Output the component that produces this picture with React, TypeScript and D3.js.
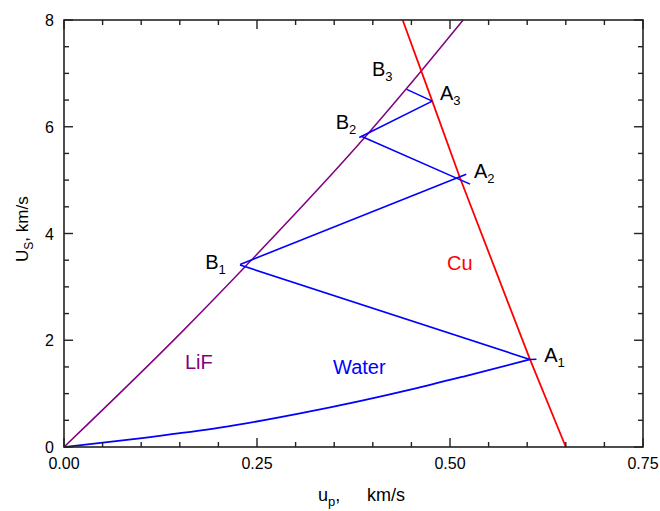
import React from "react";
import * as d3 from "d3";

// ---- data ----
const lifU = [0, 0.155, 0.2367, 0.392, 0.444, 0.517];
const lifUs = [0, 2.19, 3.41, 5.84, 6.72, 8];

const cuU = [0.65, 0.6036, 0.513, 0.477, 0.4387];
const cuUs = [0, 1.64, 5.04, 6.48, 8];

const waterU = [0, 0.0984, 0.202, 0.3057, 0.383, 0.45, 0.52, 0.6036];
const waterUs = [0, 0.163, 0.361, 0.63, 0.86, 1.08, 1.33, 1.64];

// reflection/transmission segments: [u1, Us1, u2, Us2]
const segments = [
  [0.6036, 1.64, 0.612, 1.645],
  [0.6036, 1.64, 0.228, 3.41],
  [0.228, 3.42, 0.521, 5.11],
  [0.385, 5.82, 0.526, 4.925],
  [0.3825, 5.8, 0.477, 6.48],
  [0.477, 6.48, 0.4439, 6.7],
];

const xTicks = [0, 0.25, 0.5, 0.75];
const xTickLabels = ["0.00", "0.25", "0.50", "0.75"];
const yTicks = [0, 2, 4, 6, 8];
const yTickLabels = ["0", "2", "4", "6", "8"];

// point labels: [letter, subscript, u, Us]
const pointLabels: [string, string, number, number][] = [
  ["B", "1", 0.183, 3.33],
  ["B", "2", 0.352, 5.95],
  ["B", "3", 0.399, 6.96],
  ["A", "3", 0.487, 6.5],
  ["A", "2", 0.531, 5.04],
  ["A", "1", 0.622, 1.6],
];

const W = 660;
const H = 511;
const left = 64;
const right = 643;
const top = 20;
const bottom = 447;

export default function App() {
  const x = d3.scaleLinear().domain([0, 0.75]).range([left, right]);
  const y = d3.scaleLinear().domain([0, 8]).range([bottom, top]);

  const line = (us: number[], vs: number[]) =>
    d3
      .line<number>()
      .x((_, i) => x(us[i]))
      .y((_, i) => y(vs[i]))
      .curve(d3.curveMonotoneX)(us) || "";

  const lineCu = d3
    .line<number>()
    .x((_, i) => x(cuU[i]))
    .y((_, i) => y(cuUs[i]))(cuU) || "";

  const xMinor = d3.range(0, 0.7501, 0.05);
  const yMinor = d3.range(0, 8.001, 0.5);
  const axisColor = "#222";
  const font = "'Liberation Sans', Arial, sans-serif";

  return (
    <svg width={W} height={H} style={{ position: "absolute", left: 0, top: 0 }}>
      <rect x={0} y={0} width={W} height={H} fill="#fff" />
      {/* curves */}
      <path d={line(lifU, lifUs)} fill="none" stroke="#800080" strokeWidth={1.5} />
      <path d={line(waterU, waterUs)} fill="none" stroke="#0000ff" strokeWidth={1.8} />
      <path d={lineCu} fill="none" stroke="#ff0000" strokeWidth={1.8} />
      {segments.map((s, i) => (
        <line
          key={i}
          x1={x(s[0])}
          y1={y(s[1])}
          x2={x(s[2])}
          y2={y(s[3])}
          stroke="#0000ff"
          strokeWidth={1.6}
        />
      ))}

      {/* frame */}
      <rect x={left} y={top} width={right - left} height={bottom - top} fill="none" stroke={axisColor} strokeWidth={1.6} />
      {xMinor.map((v, i) => {
        const major = Math.abs(v / 0.25 - Math.round(v / 0.25)) < 1e-6;
        const len = major ? 9 : 5;
        return (
          <g key={"xt" + i}>
            <line x1={x(v)} x2={x(v)} y1={bottom} y2={bottom - len} stroke={axisColor} strokeWidth={1.4} />
            <line x1={x(v)} x2={x(v)} y1={top} y2={top + len} stroke={axisColor} strokeWidth={1.4} />
          </g>
        );
      })}
      {yMinor.map((v, i) => {
        const major = Math.abs(v / 2 - Math.round(v / 2)) < 1e-6;
        const len = major ? 9 : 5;
        return (
          <g key={"yt" + i}>
            <line x1={left} x2={left + len} y1={y(v)} y2={y(v)} stroke={axisColor} strokeWidth={1.4} />
            <line x1={right} x2={right - len} y1={y(v)} y2={y(v)} stroke={axisColor} strokeWidth={1.4} />
          </g>
        );
      })}
      {/* tick labels */}
      {xTicks.map((v, i) => (
        <text key={"xl" + i} x={x(v)} y={469} textAnchor="middle" fontFamily={font} fontSize={16} fill="#000">
          {xTickLabels[i]}
        </text>
      ))}
      {yTicks.map((v, i) => (
        <text key={"yl" + i} x={54} y={y(v) + 6} textAnchor="end" fontFamily={font} fontSize={16} fill="#000">
          {yTickLabels[i]}
        </text>
      ))}
      {/* axis titles */}
      <text x={318} y={501} fontFamily={font} fontSize={18} fill="#000">
        u<tspan fontSize={13} dy={5}>p</tspan>
        <tspan dy={-5}>,</tspan>
      </text>
      <text x={367} y={501} fontFamily={font} fontSize={18} fill="#000">km/s</text>
      <text transform="translate(28,262) rotate(-90)" fontFamily={font} fontSize={17} fill="#000">
        U<tspan fontSize={12} dy={5}>S</tspan>
        <tspan dy={-5}>, km/s</tspan>
      </text>

      {/* material labels */}
      <text x={185} y={369} fontFamily={font} fontSize={20} fill="#800080">LiF</text>
      <text x={333} y={374} fontFamily={font} fontSize={20} fill="#0000ff">Water</text>
      <text x={447} y={270} fontFamily={font} fontSize={20} fill="#ff0000">Cu</text>

      {/* point labels */}
      {pointLabels.map((p, i) => (
        <text key={"pl" + i} x={x(p[2])} y={y(p[3])} fontFamily={font} fontSize={20} fill="#000">
          {p[0]}
          <tspan fontSize={13} dy={5}>{p[1]}</tspan>
        </text>
      ))}
    </svg>
  );
}
